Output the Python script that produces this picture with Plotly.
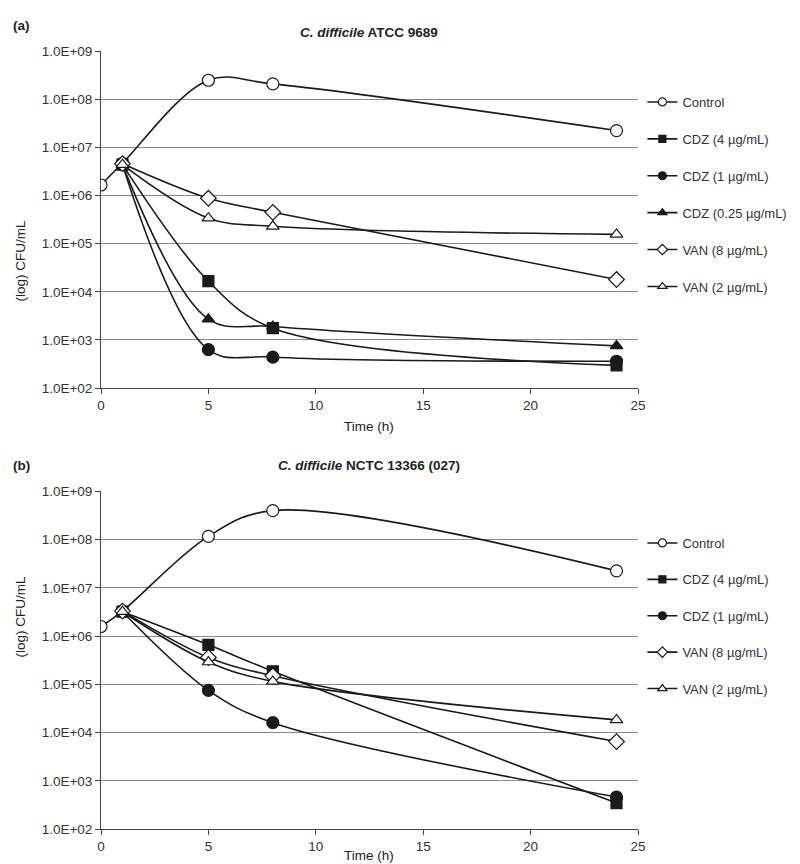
import plotly.graph_objects as go

# time points (h)
time_ctrl = [0, 1, 5, 8, 24]
time_trt = [1, 5, 8, 24]

# (a) C. difficile ATCC 9689 - CFU/mL
ctrl_a = [1.66e6, 4.7e6, 2.5e8, 2.1e8, 2.25e7]
cdz4_a = [4.4e6, 1.66e4, 1.75e3, 2.95e2]
cdz1_a = [4.4e6, 6.3e2, 4.4e2, 3.6e2]
cdz025_a = [4.4e6, 2.7e3, 1.9e3, 7.5e2]
van8_a = [4.6e6, 8.8e5, 4.5e5, 1.8e4]
van2_a = [4.4e6, 3.4e5, 2.3e5, 1.56e5]

# (b) C. difficile NCTC 13366 (027) - CFU/mL
ctrl_b = [1.58e6, 3.3e6, 1.17e8, 4.0e8, 2.25e7]
cdz4_b = [3.2e6, 6.6e5, 1.86e5, 3.45e2]
cdz1_b = [3.2e6, 7.5e4, 1.6e4, 4.6e2]
van8_b = [3.3e6, 3.6e5, 1.5e5, 6.5e3]
van2_b = [3.2e6, 2.9e5, 1.15e5, 1.83e4]

y_tickvals = [1e2, 1e3, 1e4, 1e5, 1e6, 1e7, 1e8, 1e9]
y_ticktext = ["1.0E+02", "1.0E+03", "1.0E+04", "1.0E+05",
              "1.0E+06", "1.0E+07", "1.0E+08", "1.0E+09"]
x_tickvals = [0, 5, 10, 15, 20, 25]

FONT = "Arial, Liberation Sans, sans-serif"
INK = "#1a1a1a"

# marker style per series: (symbol, size on plot, size in legend)
styles = {
    "Control": ("circle-open", 12, 8),
    "CDZ (4 µg/mL)": ("square", 11, 7),
    "CDZ (1 µg/mL)": ("circle", 12, 8),
    "CDZ (0.25 µg/mL)": ("triangle-up", 11, 8),
    "VAN (8 µg/mL)": ("diamond-open", 12, 8),
    "VAN (2 µg/mL)": ("triangle-up-open", 11, 8),
}

panel_a = [("Control", time_ctrl, ctrl_a), ("CDZ (4 µg/mL)", time_trt, cdz4_a),
           ("CDZ (1 µg/mL)", time_trt, cdz1_a), ("CDZ (0.25 µg/mL)", time_trt, cdz025_a),
           ("VAN (8 µg/mL)", time_trt, van8_a), ("VAN (2 µg/mL)", time_trt, van2_a)]
panel_b = [("Control", time_ctrl, ctrl_b), ("CDZ (4 µg/mL)", time_trt, cdz4_b),
           ("CDZ (1 µg/mL)", time_trt, cdz1_b), ("VAN (8 µg/mL)", time_trt, van8_b),
           ("VAN (2 µg/mL)", time_trt, van2_b)]

fig = go.Figure()


def marker(sym, size):
    open_sym = sym.endswith("-open")
    return dict(symbol=sym.replace("-open", ""), size=size,
                color="white" if open_sym else INK, line=dict(color=INK, width=1.2))


def add_panel(series, xa, ya, legend, tag):
    for i, (name, t, vals) in enumerate(series):
        sym, size, lsize = styles[name]
        fig.add_trace(go.Scatter(
            x=t, y=vals, name=name, mode="lines+markers", showlegend=False,
            xaxis=xa, yaxis=ya,
            line=dict(color=INK, width=1.6, shape="spline", smoothing=1.0),
            marker=marker(sym, size),
        ))
        # legend entry with smaller symbol
        fig.add_trace(go.Scatter(
            x=[None], y=[None], name=name, mode="lines+markers",
            xaxis=xa, yaxis=ya, legend=legend, legendgroup=f"{tag}{i}",
            line=dict(color=INK, width=1.6), marker=marker(sym, lsize),
        ))


add_panel(panel_a, "x", "y", "legend", "a")
add_panel(panel_b, "x2", "y2", "legend2", "b")

xdom = [93 / 800, 630 / 800]
ydom_a = [1 - 380 / 864, 1 - 43.3 / 864]
ydom_b = [1 - 821 / 864, 1 - 483.4 / 864]

xaxis_common = dict(range=[0, 25], tickvals=x_tickvals, showgrid=False, zeroline=False,
                    showline=True, linecolor="#444", linewidth=1, ticks="outside",
                    ticklen=5, tickcolor="#444", tickfont=dict(size=13.5, color="#333"))
yaxis_common = dict(type="log", range=[2, 9], tickvals=y_tickvals, ticktext=y_ticktext,
                    showgrid=True, gridcolor="#8a8a8a", gridwidth=1, zeroline=False,
                    showline=True, linecolor="#444", linewidth=1, ticks="outside",
                    ticklen=5, tickcolor="#444", tickfont=dict(size=13.5, color="#333"))

fig.update_layout(
    width=800, height=864,
    margin=dict(l=0, r=0, t=0, b=0, autoexpand=False),
    paper_bgcolor="white", plot_bgcolor="white",
    font=dict(family=FONT, color="#222"),
    xaxis=dict(domain=xdom, anchor="y", **xaxis_common),
    yaxis=dict(domain=ydom_a, anchor="x", **yaxis_common),
    xaxis2=dict(domain=xdom, anchor="y2", **xaxis_common),
    yaxis2=dict(domain=ydom_b, anchor="x2", **yaxis_common),
    legend=dict(x=0.793, y=1 - 79 / 864, xanchor="left", yanchor="top",
                tracegroupgap=17, font=dict(size=13, color="#333"),
                bgcolor="rgba(0,0,0,0)"),
    legend2=dict(x=0.793, y=1 - 520 / 864, xanchor="left", yanchor="top",
                 tracegroupgap=16.5, font=dict(size=13, color="#333"),
                 bgcolor="rgba(0,0,0,0)"),
    showlegend=True,
)

ann = dict(xref="paper", yref="paper", showarrow=False, font=dict(size=13.5, color="#222"))
fig.add_annotation(text="<b>(a)</b>", x=3 / 800, y=1 - 8 / 864, xanchor="left", **ann)
fig.add_annotation(text="<b>(b)</b>", x=3 / 800, y=1 - 457 / 864, xanchor="left", **ann)
fig.add_annotation(text="<b><i>C. difficile</i> ATCC 9689</b>", x=361 / 800, y=1 - 15 / 864,
                   xanchor="center", **ann)
fig.add_annotation(text="<b><i>C. difficile</i> NCTC 13366 (027)</b>", x=361 / 800,
                   y=1 - 457 / 864, xanchor="center", **ann)
fig.add_annotation(text="(log) CFU/mL", textangle=-90, x=12 / 800, y=1 - 211 / 864,
                   xanchor="center", **ann)
fig.add_annotation(text="(log) CFU/mL", textangle=-90, x=12 / 800, y=1 - 652 / 864,
                   xanchor="center", **ann)
fig.add_annotation(text="Time (h)", x=361 / 800, y=1 - 418 / 864, xanchor="center", **ann)
fig.add_annotation(text="Time (h)", x=361 / 800, y=1 - 857 / 864, xanchor="center", **ann)

fig.write_html("out.html")
